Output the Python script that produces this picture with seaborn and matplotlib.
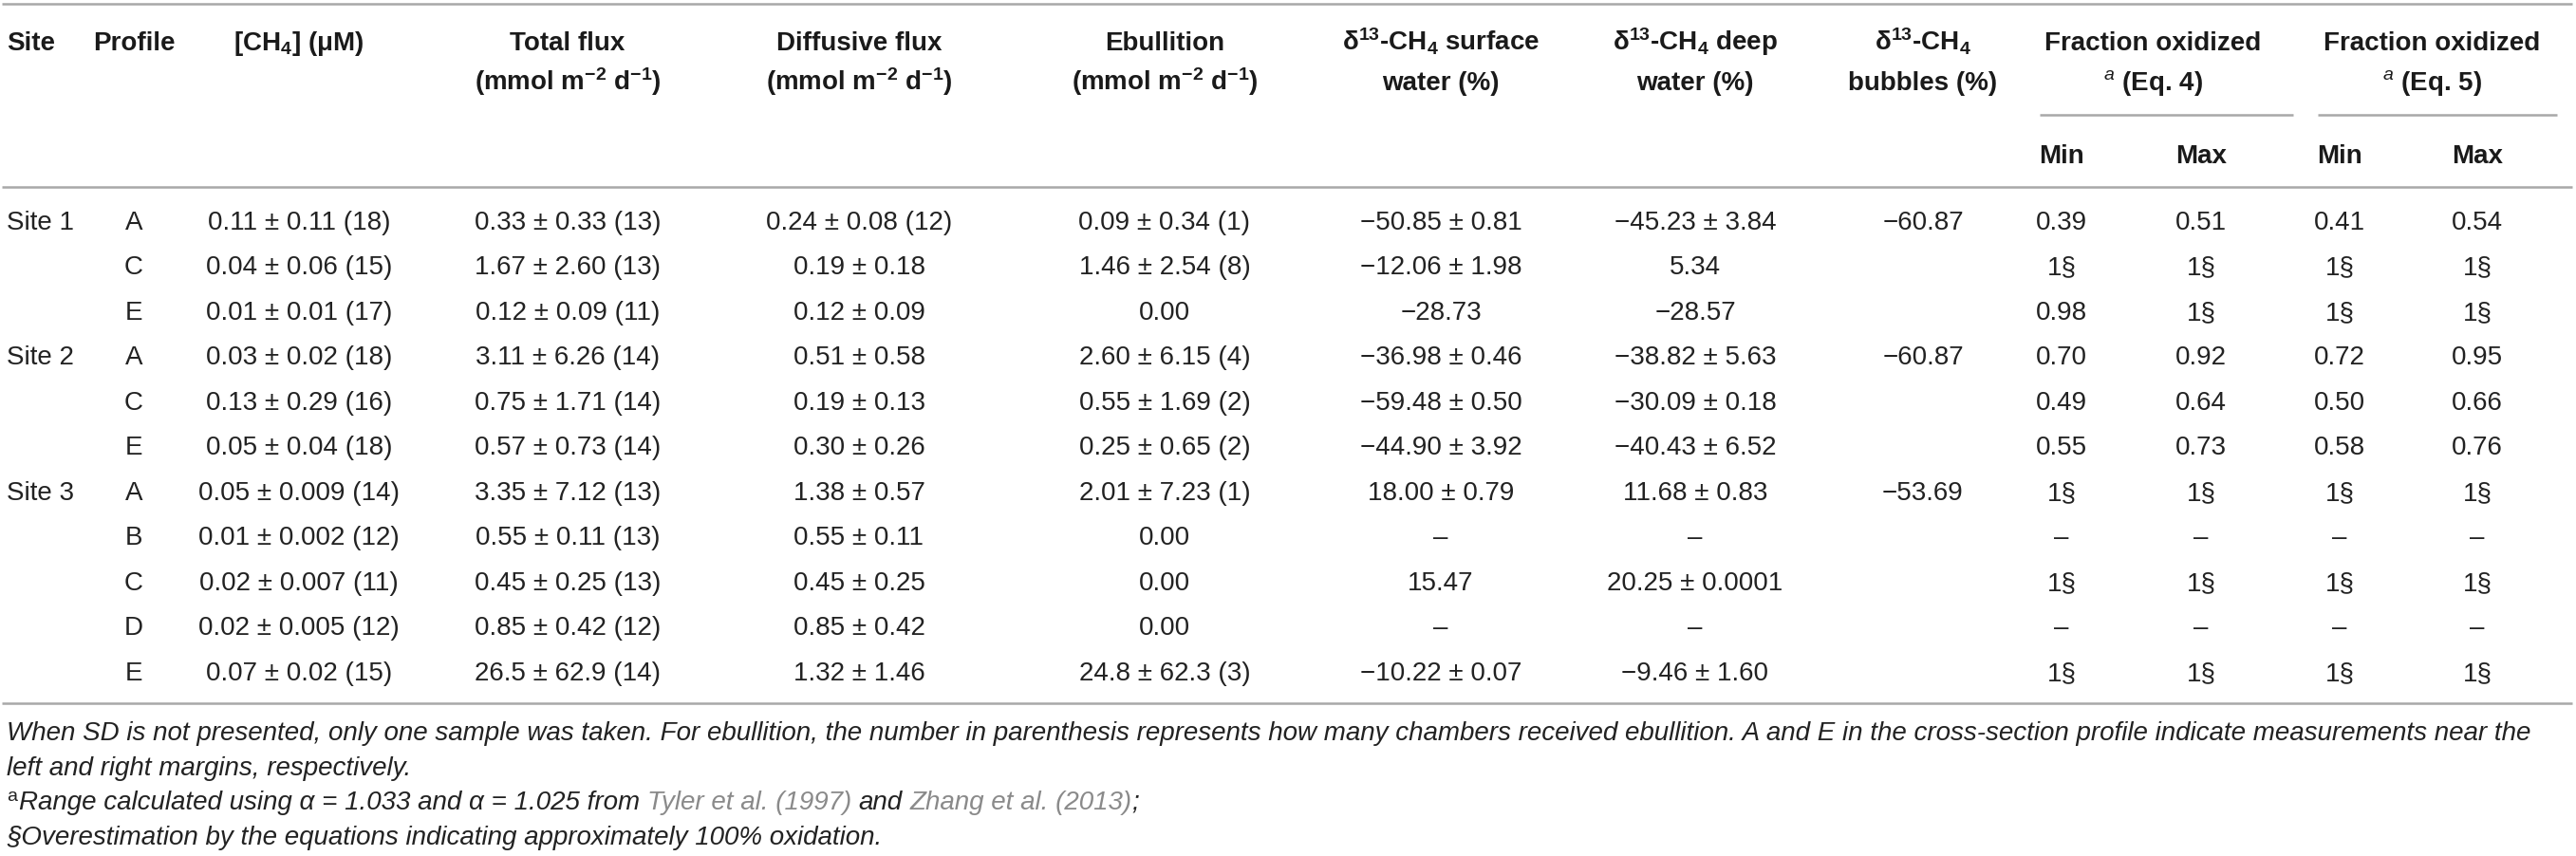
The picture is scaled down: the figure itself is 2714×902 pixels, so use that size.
import matplotlib
matplotlib.use("Agg")
import matplotlib.pyplot as plt
import seaborn as sns

sns.set_theme(style="white")
plt.rcParams['font.family'] = ['Liberation Sans', 'DejaVu Sans']
plt.rcParams['mathtext.fontset'] = 'custom'
plt.rcParams['mathtext.rm'] = 'Liberation Sans'
plt.rcParams['mathtext.bf'] = 'Liberation Sans:bold'
plt.rcParams['mathtext.it'] = 'Liberation Sans:italic'

# table data
sites = ["Site 1", "", "", "Site 2", "", "", "Site 3", "", "", "", ""]
profiles = ["A", "C", "E", "A", "C", "E", "A", "B", "C", "D", "E"]
ch4 = ["0.11 ± 0.11 (18)", "0.04 ± 0.06 (15)", "0.01 ± 0.01 (17)", "0.03 ± 0.02 (18)",
       "0.13 ± 0.29 (16)", "0.05 ± 0.04 (18)", "0.05 ± 0.009 (14)", "0.01 ± 0.002 (12)",
       "0.02 ± 0.007 (11)", "0.02 ± 0.005 (12)", "0.07 ± 0.02 (15)"]
total_flux = ["0.33 ± 0.33 (13)", "1.67 ± 2.60 (13)", "0.12 ± 0.09 (11)", "3.11 ± 6.26 (14)",
              "0.75 ± 1.71 (14)", "0.57 ± 0.73 (14)", "3.35 ± 7.12 (13)", "0.55 ± 0.11 (13)",
              "0.45 ± 0.25 (13)", "0.85 ± 0.42 (12)", "26.5 ± 62.9 (14)"]
diffusive = ["0.24 ± 0.08 (12)", "0.19 ± 0.18", "0.12 ± 0.09", "0.51 ± 0.58", "0.19 ± 0.13",
             "0.30 ± 0.26", "1.38 ± 0.57", "0.55 ± 0.11", "0.45 ± 0.25", "0.85 ± 0.42",
             "1.32 ± 1.46"]
ebullition = ["0.09 ± 0.34 (1)", "1.46 ± 2.54 (8)", "0.00", "2.60 ± 6.15 (4)", "0.55 ± 1.69 (2)",
              "0.25 ± 0.65 (2)", "2.01 ± 7.23 (1)", "0.00", "0.00", "0.00", "24.8 ± 62.3 (3)"]
d13_surface = ["−50.85 ± 0.81", "−12.06 ± 1.98", "−28.73", "−36.98 ± 0.46", "−59.48 ± 0.50",
               "−44.90 ± 3.92", "18.00 ± 0.79", "–", "15.47", "–", "−10.22 ± 0.07"]
d13_deep = ["−45.23 ± 3.84", "5.34", "−28.57", "−38.82 ± 5.63", "−30.09 ± 0.18",
            "−40.43 ± 6.52", "11.68 ± 0.83", "–", "20.25 ± 0.0001", "–", "−9.46 ± 1.60"]
d13_bubbles = ["−60.87", "", "", "−60.87", "", "", "−53.69", "", "", "", ""]
eq4_min = ["0.39", "1§", "0.98", "0.70", "0.49", "0.55", "1§", "–", "1§", "–", "1§"]
eq4_max = ["0.51", "1§", "1§", "0.92", "0.64", "0.73", "1§", "–", "1§", "–", "1§"]
eq5_min = ["0.41", "1§", "1§", "0.72", "0.50", "0.58", "1§", "–", "1§", "–", "1§"]
eq5_max = ["0.54", "1§", "1§", "0.95", "0.66", "0.76", "1§", "–", "1§", "–", "1§"]

headers_1 = ["Site", "Profile", r"[CH$_{\mathbf{4}}$] ($\mathbf{\mu}$M)", "Total flux", "Diffusive flux",
             "Ebullition", r"δ$^{\mathbf{13}}$-CH$_{\mathbf{4}}$ surface",
             r"δ$^{\mathbf{13}}$-CH$_{\mathbf{4}}$ deep", r"δ$^{\mathbf{13}}$-CH$_{\mathbf{4}}$"]
headers_2 = ["", "", "", r"(mmol m$^{\mathbf{-2}}$ d$^{\mathbf{-1}}$)",
             r"(mmol m$^{\mathbf{-2}}$ d$^{\mathbf{-1}}$)", r"(mmol m$^{\mathbf{-2}}$ d$^{\mathbf{-1}}$)",
             "water (%)", "water (%)", "bubbles (%)"]
frac_headers = ["Fraction oxidized", "Fraction oxidized"]
frac_eq = [r"$^{\mathit{a}}$ (Eq. 4)", r"$^{\mathit{a}}$ (Eq. 5)"]
sub_headers = ["Min", "Max", "Min", "Max"]

footnote_1 = ("When SD is not presented, only one sample was taken. For ebullition, the number in "
              "parenthesis represents how many chambers received ebullition. A and E in the "
              "cross-section profile indicate measurements near the")
footnote_2 = "left and right margins, respectively."
footnote_3 = [("Range calculated using α = 1.033 and α = 1.025 from ", "#222222"),
              ("Tyler et al. (1997)", "#8a8a8a"),
              (" and ", "#222222"),
              ("Zhang et al. (2013)", "#8a8a8a"),
              (";", "#222222")]
footnote_4 = "§Overestimation by the equations indicating approximately 100% oxidation."

# layout (pixels)
W, H = 2714, 903
col_x = [7, 141, 315, 598, 905, 1227, 1518, 1786, 2026]
col_ha = ["left", "center", "center", "center", "center", "center", "center", "center", "center"]
frac_x = [2268, 2562]
frac_rules = [(2149, 2416), (2442, 2694)]
sub_x = [2172, 2319, 2465, 2610]
row_y0, row_dy = 232, 47.5
text_col = "#222222"
rule_col = "#a8a8a8"
fs = 20

fig = plt.figure(figsize=(W / 100, H / 100), dpi=100)
ax = fig.add_axes([0, 0, 1, 1])
ax.set_xlim(0, W)
ax.set_ylim(H, 0)
ax.axis("off")

# rules
for y in [5, 198, 742]:
    ax.plot([2, W - 4], [y, y], color=rule_col, lw=1.8, solid_capstyle="butt")
for x0, x1 in frac_rules:
    ax.plot([x0, x1], [122, 122], color=rule_col, lw=1.8, solid_capstyle="butt")

# header
for x, ha, h1, h2 in zip(col_x, col_ha, headers_1, headers_2):
    ax.text(x, 53, h1, ha=ha, va="baseline", fontsize=fs, fontweight="bold", color="#1a1a1a")
    if h2:
        ax.text(x, 95, h2, ha=ha, va="baseline", fontsize=fs, fontweight="bold", color="#1a1a1a")
for x, h1, h2 in zip(frac_x, frac_headers, frac_eq):
    ax.text(x, 53, h1, ha="center", va="baseline", fontsize=fs, fontweight="bold", color="#1a1a1a")
    ax.text(x, 95, h2, ha="center", va="baseline", fontsize=fs, fontweight="bold", color="#1a1a1a")
for x, s in zip(sub_x, sub_headers):
    ax.text(x, 172, s, ha="center", va="baseline", fontsize=fs, fontweight="bold", color="#1a1a1a")

# body
columns = [sites, profiles, ch4, total_flux, diffusive, ebullition, d13_surface, d13_deep, d13_bubbles]
for i in range(len(profiles)):
    yb = row_y0 + i * row_dy + 10
    for x, ha, col in zip(col_x, col_ha, columns):
        ax.text(x, yb, col[i], ha=ha, va="baseline", fontsize=fs, color=text_col)
    for x, col in zip(sub_x, [eq4_min, eq4_max, eq5_min, eq5_max]):
        ax.text(x, yb, col[i], ha="center", va="baseline", fontsize=fs, color=text_col)

# footnotes
fy = [780, 817, 853, 890]
ax.text(7, fy[0], footnote_1, ha="left", va="baseline", fontsize=fs, style="italic", color=text_col)
ax.text(7, fy[1], footnote_2, ha="left", va="baseline", fontsize=fs, style="italic", color=text_col)
ax.text(7, fy[3], footnote_4, ha="left", va="baseline", fontsize=fs, style="italic", color=text_col)

fig.canvas.draw()
renderer = fig.canvas.get_renderer()


def text_width(s):
    t = ax.text(0, 0, s, fontsize=fs, style="italic")
    w = t.get_window_extent(renderer).width
    t.remove()
    return w


ax.text(7, fy[2] - 9, "a", ha="left", va="baseline", fontsize=14, color=text_col)
x_start = 7 + text_width("a") * 0.7 + 2
prefix = ""
for piece, c in footnote_3:
    prefix_new = prefix + piece
    shown = piece.strip()
    px = x_start + text_width(prefix_new.rstrip()) - text_width(shown)
    ax.text(px, fy[2], shown, ha="left", va="baseline", fontsize=fs, style="italic", color=c)
    prefix = prefix_new

fig.savefig("out.png", dpi=100)
plt.close(fig)
